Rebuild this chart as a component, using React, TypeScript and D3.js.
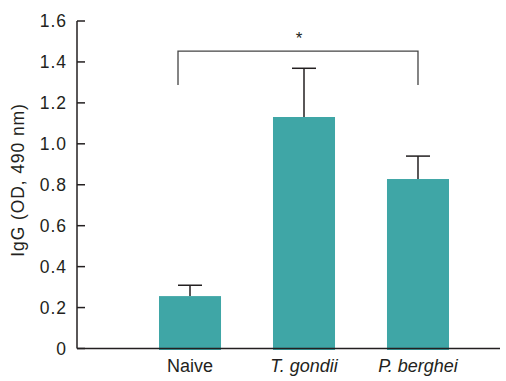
import React from "react";
import * as d3 from "d3";

const categories = ["Naive", "T. gondii", "P. berghei"];
const italicCats = [false, true, true];
const means = [0.256, 1.131, 0.828];
const errUpper = [0.309, 1.369, 0.94];
const yTicks = [0, 0.2, 0.4, 0.6, 0.8, 1.0, 1.2, 1.4, 1.6];
const yTickLabels = ["0", "0.2", "0.4", "0.6", "0.8", "1.0", "1.2", "1.4", "1.6"];
const yLabel = "IgG (OD, 490 nm)";
const sigLabel = "*";
const sigPair = [0, 2];
const sigLevel = 1.453;
const sigDrop = 1.287;

export default function App() {
  const W = 506, H = 381;
  const axisX = 77;
  const y = d3.scaleLinear().domain([0, 1.6]).range([348.5, 21]);
  const x = d3.scaleBand().domain(categories).range([102, 506]).paddingInner(0.456).paddingOuter(0.5);
  const font = "'Liberation Sans', Arial, Helvetica, sans-serif";
  const color = "#3fa6a6";
  const cx = (i: number) => (x(categories[i]) as number) + x.bandwidth() / 2;
  const capW = 24;
  const bx1 = cx(sigPair[0]) - 12;
  const bx2 = cx(sigPair[1]);
  return (
    <svg width={W} height={H} style={{ position: "absolute", left: 0, top: 0 }} fontFamily={font}>
      <rect width={W} height={H} fill="#fff" />
      {categories.map((c, i) => (
        <g key={c}>
          <rect x={x(c)} y={y(means[i])} width={x.bandwidth()} height={y(0) - y(means[i]) + 1.5} fill={color} />
          <line x1={cx(i)} x2={cx(i)} y1={y(means[i])} y2={y(errUpper[i])} stroke="#231f20" strokeWidth={1.5} />
          <line x1={cx(i) - capW / 2} x2={cx(i) + capW / 2} y1={y(errUpper[i])} y2={y(errUpper[i])} stroke="#231f20" strokeWidth={1.5} />
          <text x={cx(i)} y={372} textAnchor="middle" fontSize={18} fontStyle={italicCats[i] ? "italic" : "normal"} fill="#231f20">{c}</text>
        </g>
      ))}
      <line x1={axisX} x2={500} y1={y(0)} y2={y(0)} stroke="#231f20" strokeWidth={1.5} />
      <line x1={axisX} x2={axisX} y1={y(1.6)} y2={y(0)} stroke="#231f20" strokeWidth={1.5} />
      {yTicks.map((t, i) => (
        <g key={t}>
          <line x1={axisX} x2={axisX + 8} y1={y(t)} y2={y(t)} stroke="#231f20" strokeWidth={1.5} />
          <text x={67} y={y(t)} dy="0.36em" textAnchor="end" fontSize={17.5} letterSpacing={1} fill="#231f20">{yTickLabels[i]}</text>
        </g>
      ))}
      <text transform={`translate(24,180) rotate(-90)`} textAnchor="middle" fontSize={17.5} letterSpacing={0.9} fill="#231f20">{yLabel}</text>
      <path
        d={`M${bx1},${y(sigDrop)} V${y(sigLevel)} H${bx2} V${y(sigDrop)}`}
        fill="none" stroke="#444" strokeWidth={1.3}
      />
      <text x={(bx1 + bx2) / 2 + 1} y={44} textAnchor="middle" fontSize={17} fill="#231f20">{sigLabel}</text>
    </svg>
  );
}
